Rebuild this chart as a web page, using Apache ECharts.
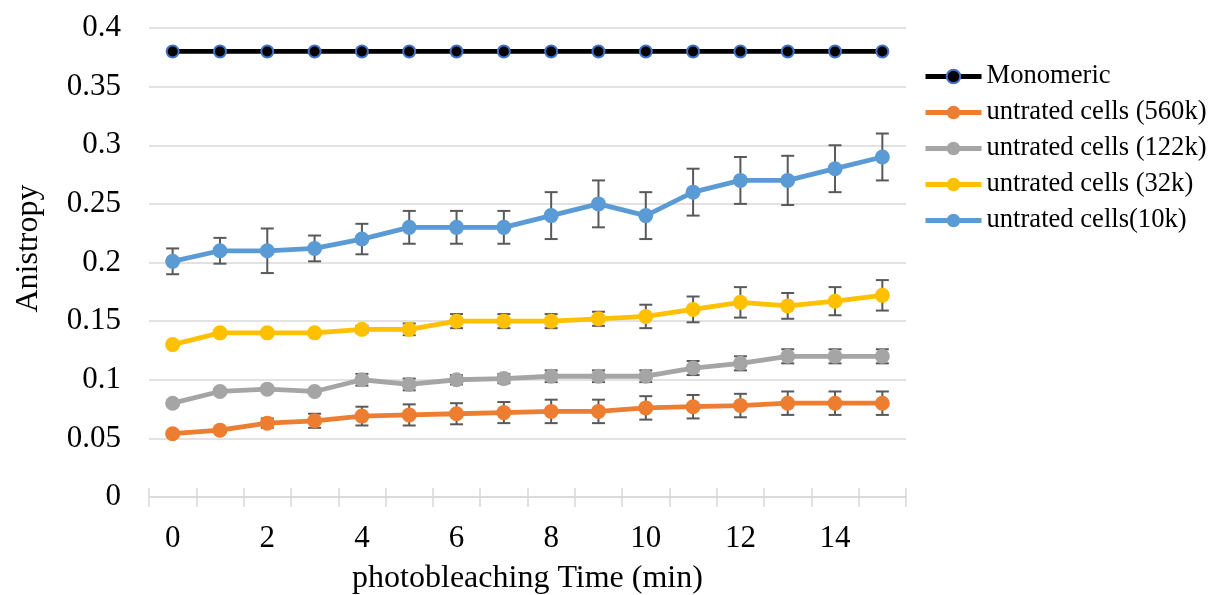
<!DOCTYPE html>
<html>
<head>
<meta charset="utf-8">
<script src="https://cdn.jsdelivr.net/npm/echarts@6/dist/echarts.min.js"></script>
<style>
html,body{margin:0;padding:0;background:#fff;}
#chart{width:1214px;height:595px;}
</style>
</head>
<body>
<div id="chart"></div>
<script>
const categories = ['0','1','2','3','4','5','6','7','8','9','10','11','12','13','14','15'];
const seriesNames = ['Monomeric','untrated cells (560k)','untrated cells (122k)','untrated cells (32k)','untrated cells(10k)'];

const monomeric = [0.38,0.38,0.38,0.38,0.38,0.38,0.38,0.38,0.38,0.38,0.38,0.38,0.38,0.38,0.38,0.38];
const cells560k = [0.054,0.057,0.063,0.065,0.069,0.070,0.071,0.072,0.073,0.073,0.076,0.077,0.078,0.080,0.080,0.080];
const cells122k = [0.080,0.090,0.092,0.090,0.100,0.096,0.100,0.101,0.103,0.103,0.103,0.110,0.114,0.120,0.120,0.120];
const cells32k  = [0.130,0.140,0.140,0.140,0.143,0.143,0.150,0.150,0.150,0.152,0.154,0.160,0.166,0.163,0.167,0.172];
const cells10k  = [0.201,0.210,0.210,0.212,0.220,0.230,0.230,0.230,0.240,0.250,0.240,0.260,0.270,0.270,0.280,0.290];

const err560k = [0.002,0.002,0.004,0.006,0.008,0.009,0.009,0.009,0.010,0.010,0.010,0.010,0.010,0.010,0.010,0.010];
const err122k = [0.002,0.002,0.002,0.002,0.005,0.005,0.004,0.004,0.005,0.005,0.005,0.006,0.006,0.006,0.006,0.006];
const err32k  = [0.002,0.002,0.002,0.002,0.003,0.005,0.006,0.006,0.006,0.006,0.010,0.011,0.013,0.011,0.012,0.013];
const err10k  = [0.011,0.011,0.019,0.011,0.013,0.014,0.014,0.014,0.020,0.020,0.020,0.020,0.020,0.021,0.020,0.020];

const yTicks = {min:0, max:0.4, interval:0.05};

const FONT = 'Liberation Serif';
const colors = ['#000000','#ED7D31','#A5A5A5','#FFC000','#5B9BD5'];

function errData(vals, errs){
  return vals.map((v,i)=>[i, v-errs[i], v+errs[i]]);
}
function renderErr(params, api){
  const x = api.value(0);
  const pLo = api.coord([x, api.value(1)]);
  const pHi = api.coord([x, api.value(2)]);
  const hw = 6.5;
  const st = {stroke:'#595959', lineWidth:2};
  return {type:'group', children:[
    {type:'line', shape:{x1:pHi[0],y1:pHi[1],x2:pLo[0],y2:pLo[1]}, style:st},
    {type:'line', shape:{x1:pHi[0]-hw,y1:pHi[1],x2:pHi[0]+hw,y2:pHi[1]}, style:st},
    {type:'line', shape:{x1:pLo[0]-hw,y1:pLo[1],x2:pLo[0]+hw,y2:pLo[1]}, style:st}
  ]};
}
function errSeries(name, vals, errs){
  return {type:'custom', name:name+' err', renderItem:renderErr, data:errData(vals,errs),
    encode:{x:0,y:[1,2]}, z:1, silent:true, xAxisIndex:0, yAxisIndex:0};
}
function lineSeries(name, vals, color, opts){
  return Object.assign({
    type:'line', name:name, data:vals, z:3,
    symbol:'circle', symbolSize:15, showAllSymbol:true,
    lineStyle:{color:color, width:4.8},
    itemStyle:{color:color},
    emphasis:{disabled:true}
  }, opts||{});
}

const legendData = seriesNames.map((n,i)=>({name:n, lineStyle:{width:5, color:colors[i]}}));

const chart = echarts.init(document.getElementById('chart'), null, {renderer:'canvas'});
chart.setOption({
  animation:false,
  backgroundColor:'#ffffff',
  grid:{left:149, right:308, top:28, bottom:98, containLabel:false, outerBoundsMode:'none'},
  legend:{
    data:legendData,
    orient:'vertical',
    left:918, top:58,
    itemWidth:56, itemHeight:17, itemGap:9,
    textStyle:{fontFamily:FONT, fontSize:26.6, color:'#000', lineHeight:27},
    selectedMode:false
  },
  xAxis:[{
    type:'category', data:categories, boundaryGap:true,
    name:'photobleaching Time (min)', nameLocation:'middle', nameGap:66,
    nameTextStyle:{fontFamily:FONT, fontSize:32, color:'#000'},
    axisLine:{show:true, lineStyle:{color:'#d9d9d9', width:1.5}},
    axisTick:{show:true, interval:0, inside:false, length:10, lineStyle:{color:'#d9d9d9', width:1.5}},
    axisLabel:{interval:1, margin:26, fontFamily:FONT, fontSize:31, color:'#000'},
    splitLine:{show:false}
  },{
    type:'category', data:categories, boundaryGap:true, position:'bottom', gridIndex:0,
    axisLine:{show:false},
    axisTick:{show:true, interval:0, inside:true, length:9, lineStyle:{color:'#d9d9d9', width:1.5}},
    axisLabel:{show:false}, splitLine:{show:false}
  }],
  yAxis:{
    type:'value', min:yTicks.min, max:yTicks.max, interval:yTicks.interval,
    name:'Anistropy', nameLocation:'middle', nameGap:104, nameRotate:90,
    nameTextStyle:{fontFamily:FONT, fontSize:32, color:'#000', padding:[0,0,0,28]},
    axisLine:{show:false}, axisTick:{show:false},
    axisLabel:{margin:28, fontFamily:FONT, fontSize:31, color:'#000'},
    splitLine:{show:true, lineStyle:{color:'#d9d9d9', width:1.5}}
  },
  series:[
    errSeries(seriesNames[1], cells560k, err560k),
    errSeries(seriesNames[2], cells122k, err122k),
    errSeries(seriesNames[3], cells32k, err32k),
    errSeries(seriesNames[4], cells10k, err10k),
    lineSeries(seriesNames[0], monomeric, colors[0], {
      symbolSize:12,
      lineStyle:{color:'#000', width:4.8},
      itemStyle:{color:'#000', borderColor:'#4472C4', borderWidth:2}
    }),
    lineSeries(seriesNames[1], cells560k, colors[1]),
    lineSeries(seriesNames[2], cells122k, colors[2]),
    lineSeries(seriesNames[3], cells32k, colors[3]),
    lineSeries(seriesNames[4], cells10k, colors[4])
  ]
});
</script>
</body>
</html>
